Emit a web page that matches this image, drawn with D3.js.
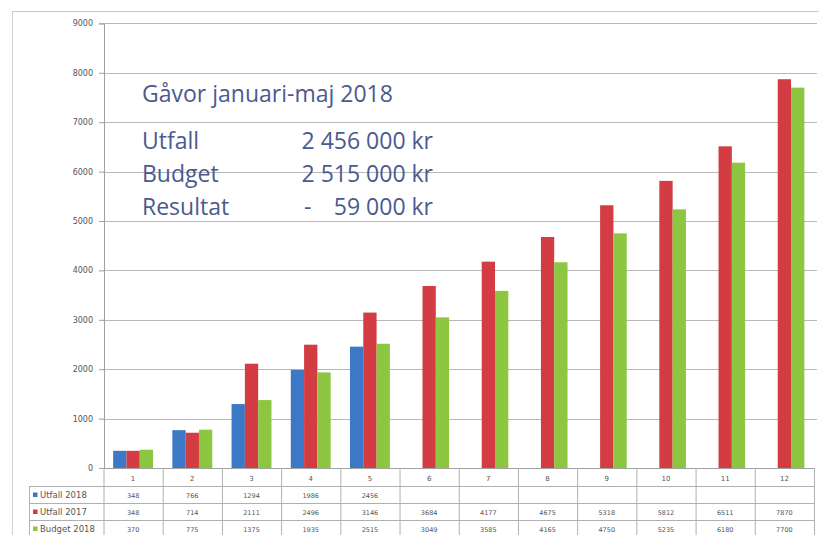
<!DOCTYPE html>
<html><head><meta charset="utf-8">
<script src="https://cdn.jsdelivr.net/npm/d3@7"></script>
<style>html,body{margin:0;padding:0;background:#fff;}svg{display:block;}</style>
</head><body>
<svg id="c" width="819" height="535"></svg>
<script>
const categories = ["1","2","3","4","5","6","7","8","9","10","11","12"];
const seriesNames = ["Utfall 2018","Utfall 2017","Budget 2018"];
const utfall2018 = [348, 766, 1294, 1986, 2456, null, null, null, null, null, null, null];
const utfall2017 = [348, 714, 2111, 2496, 3146, 3684, 4177, 4675, 5318, 5812, 6511, 7870];
const budget2018 = [370, 775, 1375, 1935, 2515, 3049, 3585, 4165, 4750, 5235, 6180, 7700];
const yTicks = [0,1000,2000,3000,4000,5000,6000,7000,8000,9000];
const colors = ["#3b78c6", "#d23c42", "#8dc641"];
const titleText = "Gåvor januari-maj 2018";
const summaryLabels = ["Utfall","Budget","Resultat"];
const summaryValues = ["2 456 000 kr","2 515 000 kr","59 000 kr"];
const summarySigns = ["","","-"];

const series = [utfall2018, utfall2017, budget2018];
const svg = d3.select("#c");
const left = 103.5, right = 814, y0 = 468, yTop = 23.4;
const x = d3.scaleBand().domain(categories).range([left, right]).paddingInner(0).paddingOuter(0);
const x1 = d3.scaleBand().domain(seriesNames).range([x.bandwidth()*0.163, x.bandwidth()*0.837]).padding(0);
const y = d3.scaleLinear().domain([0, 9000]).range([y0, yTop]);

// outer frame
svg.append("line").attr("x1",12).attr("x2",819).attr("y1",11.5).attr("y2",11.5).attr("stroke","#c8c8c8");
svg.append("line").attr("x1",12.5).attr("x2",12.5).attr("y1",11).attr("y2",535).attr("stroke","#d0d0d0");

// gridlines
svg.append("g").selectAll("line").data(yTicks.filter(d=>d>0)).join("line")
  .attr("x1", left).attr("x2", 817).attr("y1", d=>Math.round(y(d))+0.5).attr("y2", d=>Math.round(y(d))+0.5)
  .attr("stroke", "#b8b8b8").attr("stroke-width", 1);

// y axis
const yAxis = d3.axisLeft(y).tickValues(yTicks).tickSize(5).tickPadding(6).tickFormat(d3.format("d"));
const gy = svg.append("g").attr("transform", `translate(${left+0.5},0)`).call(yAxis);
gy.select(".domain").attr("stroke","#a0a0a0");
gy.selectAll(".tick line").attr("stroke","#a0a0a0");
gy.selectAll(".tick text").attr("fill","#555").style("font-family","DejaVu Sans").style("font-size","8px");

// bars
const g = svg.append("g");
series.forEach((s, si) => {
  g.selectAll(".b"+si).data(categories.map((c,i)=>({c, v:s[i]})).filter(d=>d.v!=null)).join("rect")
    .attr("x", d => x(d.c) + x1(seriesNames[si]))
    .attr("width", x1.bandwidth())
    .attr("y", d => y(d.v))
    .attr("height", d => y0 - y(d.v))
    .attr("fill", colors[si]);
});

// x axis / table
const rowTop = [468, 486.5, 503.5, 520.5];
const tableRight = 815;
const tl = svg.append("g").attr("stroke","#b0b0b0").attr("stroke-width",1);
tl.append("line").attr("x1",left).attr("x2",tableRight).attr("y1",468.5).attr("y2",468.5).attr("stroke","#a0a0a0");
[486.5, 503.5, 520.5].forEach(yy => tl.append("line").attr("x1",29).attr("x2",tableRight).attr("y1",yy).attr("y2",yy));
tl.append("line").attr("x1",29.5).attr("x2",29.5).attr("y1",486.5).attr("y2",535);
categories.concat(["end"]).forEach((c,i) => {
  const xx = left + i * x.bandwidth() + 0.5;
  tl.append("line").attr("x1",xx).attr("x2",xx).attr("y1",468).attr("y2",535);
});

// category labels
svg.append("g").selectAll("text").data(categories).join("text")
  .attr("x", d => x(d) + x.bandwidth()/2).attr("y", 480.5)
  .attr("text-anchor","middle").attr("fill","#555")
  .style("font-family","DejaVu Sans").style("font-size","7px").text(d=>d);

// data rows
series.forEach((s, si) => {
  const ty = rowTop[si+1] + 11.5;
  svg.append("g").selectAll("text").data(categories.map((c,i)=>({c, v:s[i]})).filter(d=>d.v!=null)).join("text")
    .attr("x", d => x(d.c) + x.bandwidth()/2).attr("y", ty)
    .attr("text-anchor","middle").attr("fill","#555")
    .style("font-family","DejaVu Sans").style("font-size","6.5px").text(d=>d.v);
  svg.append("rect").attr("x",33).attr("y",ty-5.5).attr("width",4.5).attr("height",4.5).attr("fill",colors[si]);
  svg.append("text").attr("x",40).attr("y",ty).attr("fill","#555")
    .style("font-family","DejaVu Sans").style("font-size","8.5px").text(seriesNames[si]);
});

// overlay text
const tc = "#4a5a90";
const ff = "Open Sans", fs = "23px";
svg.append("text").attr("x",142).attr("y",102).attr("fill",tc)
  .style("font-family",ff).style("font-size",fs).text(titleText);
summaryLabels.forEach((lab, i) => {
  const by = 149 + i*33;
  svg.append("text").attr("x",142).attr("y",by).attr("fill",tc)
    .style("font-family",ff).style("font-size",fs).text(lab);
  svg.append("text").attr("x",433).attr("y",by).attr("fill",tc).attr("text-anchor","end")
    .style("font-family",ff).style("font-size",fs).text(summaryValues[i]);
  if (summarySigns[i]) svg.append("text").attr("x",304).attr("y",by).attr("fill",tc)
    .style("font-family",ff).style("font-size",fs).text(summarySigns[i]);
});
</script>
</body></html>
